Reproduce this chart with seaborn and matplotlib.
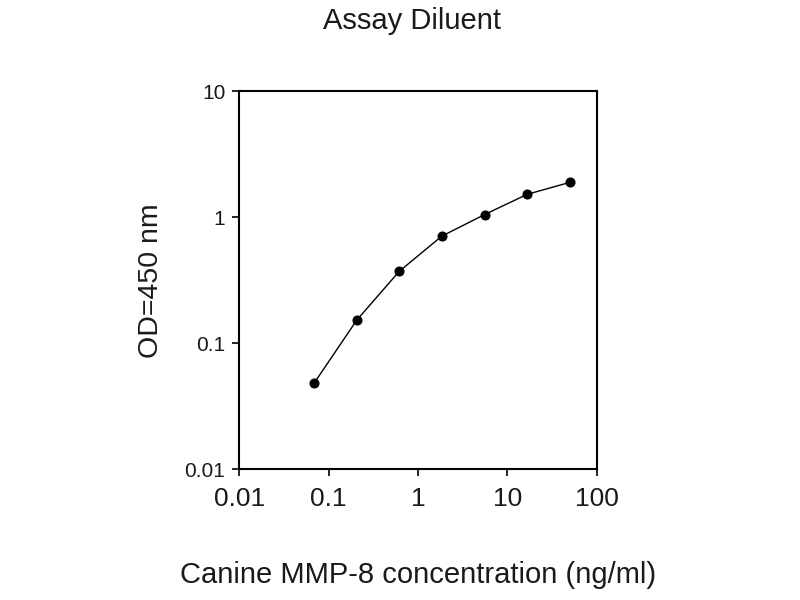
import matplotlib
matplotlib.use("Agg")
import matplotlib.pyplot as plt
import seaborn as sns
import pandas as pd

# standard curve (3-fold dilutions from 50 ng/ml)
conc = [0.0686, 0.206, 0.617, 1.85, 5.56, 16.7, 50.0]
od = [0.048, 0.152, 0.372, 0.708, 1.05, 1.52, 1.89]

x_ticks = [0.01, 0.1, 1, 10, 100]
x_tick_labels = ["0.01", "0.1", "1", "10", "100"]
y_ticks = [0.01, 0.1, 1, 10]
y_tick_labels = ["0.01", "0.1", "1", "10"]

df = pd.DataFrame({"conc": conc, "od": od})

sns.set_style("ticks")
plt.rcParams['font.family'] = ['Liberation Sans', 'DejaVu Sans']
txt = "#1a1a1a"

fig = plt.figure(figsize=(8, 6), dpi=100)
ax = fig.add_axes([0.299, 0.218, 0.447, 0.630])

sns.lineplot(data=df, x="conc", y="od", ax=ax, color="black", linewidth=1.0,
             marker="o", markersize=6.5, markeredgecolor="black", markerfacecolor="black")

ax.set_xscale("log")
ax.set_yscale("log")
ax.set_xlim(0.01, 100)
ax.set_ylim(0.01, 10)
ax.set_xticks(x_ticks)
ax.set_xticklabels(x_tick_labels, fontsize=19, color=txt)
ax.set_yticks(y_ticks)
ax.set_yticklabels(y_tick_labels, fontsize=15, color=txt)
ax.minorticks_off()
ax.tick_params(axis="both", direction="out", length=5, width=1.2, color="black")
ax.tick_params(axis="x", pad=8)
ax.tick_params(axis="y", pad=5)

for s in ax.spines.values():
    s.set_linewidth(1.5)
    s.set_color("black")

ax.set_xlabel("Canine MMP-8 concentration (ng/ml)", fontsize=21, labelpad=36, color=txt)
ax.set_ylabel("OD=450 nm", fontsize=20.5, labelpad=15, color=txt)
fig.text(0.515, 0.965, "Assay Diluent", ha="center", va="center", fontsize=21, color=txt)

fig.savefig("out.png", dpi=100, facecolor="white")
